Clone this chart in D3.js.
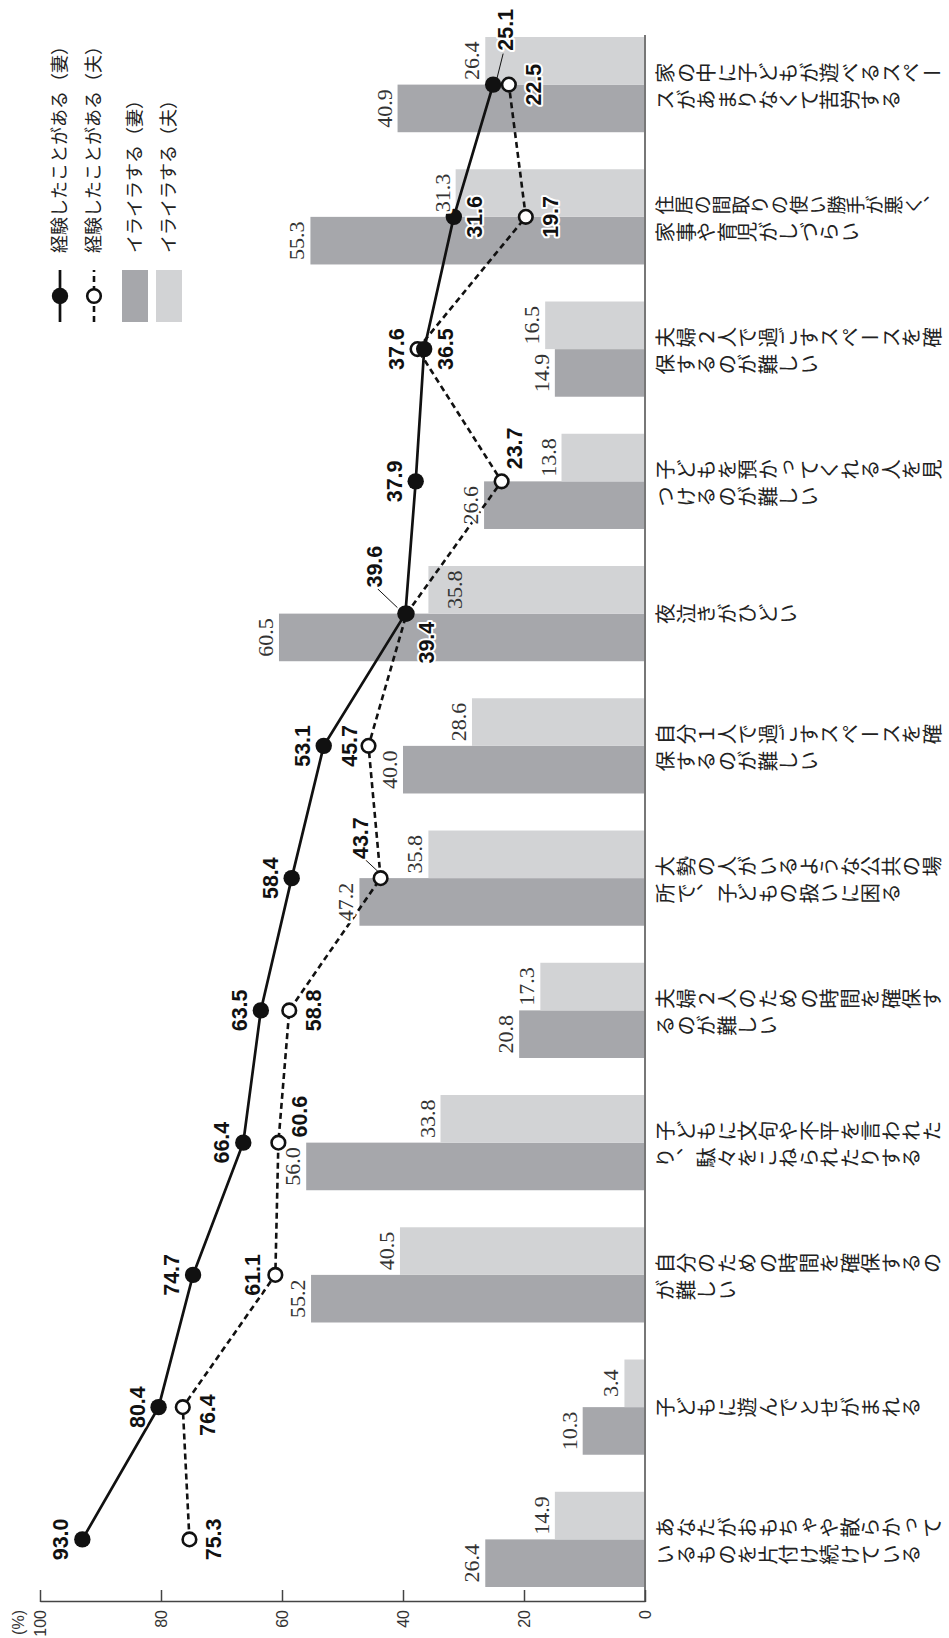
<!DOCTYPE html>
<html>
<head>
<meta charset="utf-8">
<script src="https://cdn.jsdelivr.net/npm/d3@7"></script>
<style>
body { margin: 0; background: #fff; }
svg { display: block; }
</style>
</head>
<body>
<svg id="chart"></svg>
<script>
// categories, left to right as the chart is drawn before the page is turned
const categories = [
    ["あなたがおもちゃや散らかって", "いるものを片付け続けている"],
    ["子どもに遊んでとせがまれる"],
    ["自分のための時間を確保するの", "が難しい"],
    ["子どもに文句や不平を言われた", "り、駄々をこねられたりする"],
    ["夫婦２人のための時間を確保す", "るのが難しい"],
    ["大勢の人がいるような公共の場", "所で、子どもの扱いに困る"],
    ["自分１人で過ごすスペースを確", "保するのが難しい"],
    ["夜泣きがひどい"],
    ["子どもを預かってくれる人を見", "つけるのが難しい"],
    ["夫婦２人で過ごすスペースを確", "保するのが難しい"],
    ["住居の間取りの使い勝手が悪く、", "家事や育児がしづらい"],
    ["家の中に子どもが遊べるスペー", "スがあまりなくて苦労する"]
];

const wifeExperienced    = [93.0, 80.4, 74.7, 66.4, 63.5, 58.4, 53.1, 39.6, 37.9, 36.5, 31.6, 25.1];
const husbandExperienced = [75.3, 76.4, 61.1, 60.6, 58.8, 43.7, 45.7, 39.4, 23.7, 37.6, 19.7, 22.5];
const wifeIrritated      = [26.4, 10.3, 55.2, 56.0, 20.8, 47.2, 40.0, 60.5, 26.6, 14.9, 55.3, 40.9];
const husbandIrritated   = [14.9, 3.4, 40.5, 33.8, 17.3, 35.8, 28.6, 35.8, 13.8, 16.5, 31.3, 26.4];

const seriesNames = ["経験したことがある（妻）", "経験したことがある（夫）", "イライラする（妻）", "イライラする（夫）"];
const valueTicks = [0, 20, 40, 60, 80, 100];

// label nudges where the printed chart moved a value off its default spot
const wifeLabelShift = {
    11: {dx: 34, dy: 20, anchor: "start", leader: [[3, 3], [31, 10]]},
    10: {dy: 28},
    9: {dy: 29},
    7: {dx: 47, dy: -23, leader: [[6, -8], [25, -28]]}
};
const husbandLabelShift = {
    9: {dy: -14},
    8: {dx: 33, dy: 20},
    7: {dx: -29, dy: 27},
    6: {dy: -12},
    5: {dx: 40, dy: -13, leader: [[7, -3], [20, -17]]},
    3: {dx: 26, dy: 29},
    2: {dy: -15},
    1: {dx: -8}
};

const W = 949, H = 1638;
const darkGray = "#a6a7ab", lightGray = "#d2d3d5";
const sans = "'Liberation Sans', Arial, sans-serif";
const serif = "'Liberation Serif', 'Times New Roman', serif";
const jp = "'Noto Sans CJK JP', sans-serif";
const catSize = 20.5;

let svg = d3.select("#chart").attr("width", W).attr("height", H);

// drawn upright on a H x W sheet, then turned a quarter to the left
let g = svg.append("g").attr("transform", "translate(0," + H + ") rotate(-90)");

const keys = categories.map(d => d.join(""));
let x = d3.scaleBand().domain(keys).range([51, 1601]).paddingInner(0.28);
let y = d3.scaleLinear().domain([0, 100]).range([645, 40]);
const half = x.bandwidth() / 2;
const mid = i => x(keys[i]) + half;

// bars
g.append("g").selectAll("rect")
    .data(wifeIrritated)
    .join("rect")
    .attr("x", (d, i) => x(keys[i]))
    .attr("y", d => y(d))
    .attr("width", half)
    .attr("height", d => y(0) - y(d))
    .attr("fill", darkGray);

g.append("g").selectAll("rect")
    .data(husbandIrritated)
    .join("rect")
    .attr("x", (d, i) => x(keys[i]) + half)
    .attr("y", d => y(d))
    .attr("width", half)
    .attr("height", d => y(0) - y(d))
    .attr("fill", lightGray);

// zero line
g.append("line")
    .attr("x1", 36).attr("x2", 1603)
    .attr("y1", y(0)).attr("y2", y(0))
    .attr("stroke", "#777")
    .attr("stroke-width", 2);

// value axis
let axis = g.append("g")
    .attr("transform", "translate(36,0)")
    .call(d3.axisLeft(y).tickValues(valueTicks).tickSizeInner(-12).tickSizeOuter(0).tickPadding(8));
axis.attr("font-family", sans).attr("font-size", 16);
axis.select(".domain").attr("stroke", "#444").attr("stroke-width", 1.5);
axis.selectAll(".tick line").attr("stroke", "#444").attr("stroke-width", 1.5);
axis.selectAll(".tick text").attr("fill", "#333");

g.append("text")
    .attr("x", 28).attr("y", 24)
    .attr("text-anchor", "end")
    .attr("font-family", sans).attr("font-size", 16).attr("fill", "#333")
    .text("(%)");

// lines
let lineGen = d3.line().x((d, i) => mid(i)).y(d => y(d));

g.append("path")
    .datum(husbandExperienced)
    .attr("d", lineGen)
    .attr("fill", "none")
    .attr("stroke", "#111")
    .attr("stroke-width", 2.6)
    .attr("stroke-dasharray", "6,4");

g.append("path")
    .datum(wifeExperienced)
    .attr("d", lineGen)
    .attr("fill", "none")
    .attr("stroke", "#111")
    .attr("stroke-width", 2.7);

g.append("g").selectAll("circle")
    .data(husbandExperienced)
    .join("circle")
    .attr("cx", (d, i) => mid(i))
    .attr("cy", d => y(d))
    .attr("r", 6.8)
    .attr("fill", "#fff")
    .attr("stroke", "#111")
    .attr("stroke-width", 2.6);

g.append("g").selectAll("circle")
    .data(wifeExperienced)
    .join("circle")
    .attr("cx", (d, i) => mid(i))
    .attr("cy", d => y(d))
    .attr("r", 8.2)
    .attr("fill", "#111");

// bar values
function barLabels(values, offset) {
    g.append("g").selectAll("text")
        .data(values)
        .join("text")
        .attr("x", (d, i) => x(keys[i]) + offset + half / 2)
        .attr("y", (d, i) => (offset > 0 && i === 7) ? y(d) + 34 : y(d) - 6)
        .attr("text-anchor", "middle")
        .attr("font-family", serif)
        .attr("font-size", 22)
        .attr("fill", "#333")
        .attr("stroke", (d, i) => (offset > 0 && i === 7) ? "none" : "#fff")
        .attr("stroke-width", 5)
        .attr("stroke-linejoin", "round")
        .attr("paint-order", "stroke")
        .text(d => d.toFixed(1));
}
barLabels(wifeIrritated, 0);
barLabels(husbandIrritated, half);

// line values
function lineLabels(values, shifts, defaultDy) {
    values.forEach((v, i) => {
        const s = shifts[i] || {};
        const cx = mid(i), cy = y(v);
        if (s.leader) {
            g.append("line")
                .attr("x1", cx + s.leader[0][0]).attr("y1", cy + s.leader[0][1])
                .attr("x2", cx + s.leader[1][0]).attr("y2", cy + s.leader[1][1])
                .attr("stroke", "#111").attr("stroke-width", 1);
        }
        g.append("text")
            .attr("x", cx + (s.dx || 0))
            .attr("y", cy + (s.dy !== undefined ? s.dy : defaultDy))
            .attr("text-anchor", s.anchor || "middle")
            .attr("font-family", sans)
            .attr("font-weight", "bold")
            .attr("font-size", 21.5)
            .attr("fill", "#111")
            .attr("stroke", "#fff")
            .attr("stroke-width", 4)
            .attr("stroke-linejoin", "round")
            .attr("paint-order", "stroke")
            .text(v.toFixed(1));
    });
}
lineLabels(wifeExperienced, wifeLabelShift, -14);
lineLabels(husbandExperienced, husbandLabelShift, 32);

// category names, written top to bottom
categories.forEach((lines, i) => {
    const offs = lines.length === 1 ? [0] : [12, -15];
    lines.forEach((t, j) => {
        // the one 15-character line gets a slightly smaller size so it fits the sheet
        const size = t.length > 14 ? 14 * catSize / 15 : catSize;
        g.append("text")
            .attr("x", mid(i) + offs[j])
            .attr("y", 655)
            .style("writing-mode", "vertical-rl")
            .attr("font-family", jp)
            .attr("font-size", size)
            .attr("fill", "#222")
            .text(t);
    });
});

// legend
const legendRows = [60, 94, 135, 169];
let legend = g.append("g");

legend.append("line")
    .attr("x1", 1316).attr("x2", 1368).attr("y1", legendRows[0]).attr("y2", legendRows[0])
    .attr("stroke", "#111").attr("stroke-width", 2.7);
legend.append("circle")
    .attr("cx", 1342).attr("cy", legendRows[0]).attr("r", 8.2).attr("fill", "#111");

legend.append("line")
    .attr("x1", 1316).attr("x2", 1368).attr("y1", legendRows[1]).attr("y2", legendRows[1])
    .attr("stroke", "#111").attr("stroke-width", 2.6).attr("stroke-dasharray", "6,4");
legend.append("circle")
    .attr("cx", 1342).attr("cy", legendRows[1]).attr("r", 6.8)
    .attr("fill", "#fff").attr("stroke", "#111").attr("stroke-width", 2.6);

legend.append("rect")
    .attr("x", 1316).attr("y", legendRows[2] - 13).attr("width", 52).attr("height", 26)
    .attr("fill", darkGray);
legend.append("rect")
    .attr("x", 1316).attr("y", legendRows[3] - 13).attr("width", 52).attr("height", 26)
    .attr("fill", lightGray);

legend.selectAll(".legend-text")
    .data(seriesNames)
    .join("text")
    .attr("x", 1385)
    .attr("y", (d, i) => legendRows[i])
    .attr("dy", "0.36em")
    .attr("font-family", jp)
    .attr("font-size", 18)
    .attr("fill", "#222")
    .text(d => d);
</script>
</body>
</html>
